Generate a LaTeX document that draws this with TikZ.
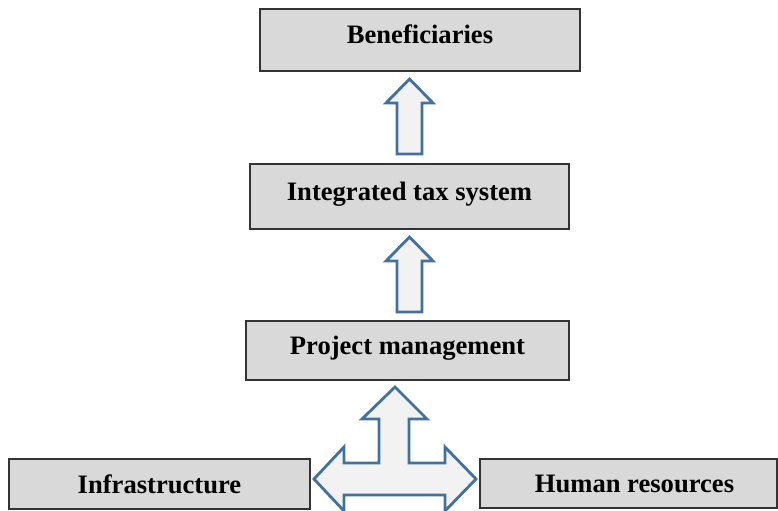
\documentclass[tikz,border=0pt]{standalone}
\usepackage{fontspec}
\setmainfont{Liberation Serif}
\usepackage{tikz}

\tikzset{
  box/.style={draw=black!80, line width=0.9pt, fill=black!15, inner sep=0pt,
    font=\fontsize{13.3pt}{16pt}\selectfont\bfseries},
  raised/.style={text height=9pt, text depth=5.2pt},
  blockarrow/.style={draw={rgb,255:red,65;green,113;blue,156}, line width=1.4pt,
    fill=black!5, line join=miter}
}

\begin{document}
\begin{tikzpicture}[x=0.5pt, y=-0.5pt]
                \useasboundingbox (0,0) rectangle (778,510);
                \node[box, raised, minimum width=160pt, minimum height=31pt] (ben) at (420,40) {Beneficiaries};
                \node[box, raised, minimum width=159.5pt, minimum height=32.5pt] (tax) at (409.5,196.5) {Integrated tax system};
                \node[box, raised, minimum width=161.5pt, minimum height=29.5pt] (proj) at (407.5,350.5) {Project management};
                \node[box, minimum width=150.5pt, minimum height=25pt] (infra) at (159.5,484) {Infrastructure};
                \node[box, minimum width=148.5pt, minimum height=24.5pt] (hr) at (628.5,483.5) {\hspace{6pt}Human resources};
                \foreach \t/\b in {79/154, 237/312}
                    \draw[blockarrow] (409.5,\t) -- (433,\t+24) -- (422,\t+24) -- (422,\b)
                        -- (397,\b) -- (397,\t+24) -- (386,\t+24) -- cycle;
                \draw[blockarrow] (395,387) -- (427,419) -- (409,419) -- (409,463) -- (445,463)
                    -- (445,447) -- (476,479) -- (445,511) -- (445,495) -- (344,495) -- (344,511)
                    -- (314,479) -- (344,447) -- (344,463) -- (379,463) -- (379,419) -- (362,419) -- cycle;
            \end{tikzpicture}
\end{document}
